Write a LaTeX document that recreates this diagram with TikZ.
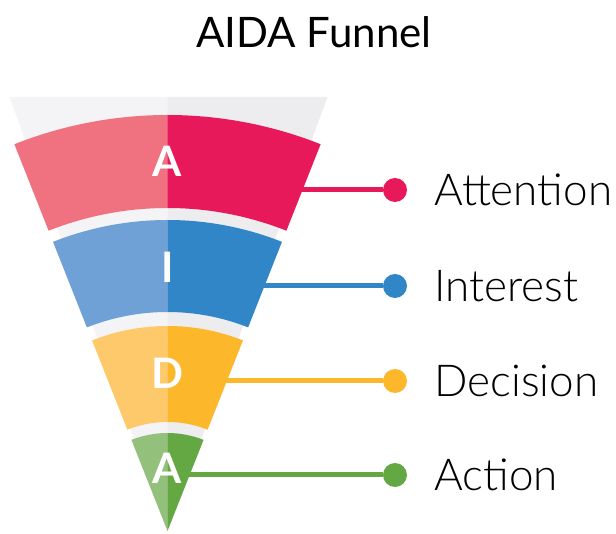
\documentclass[tikz,border=0pt]{standalone}
\usepackage{fontspec}
\setmainfont{Lato}
\newfontfamily\lightfont{Lato}[UprightFont=* Light]
\usetikzlibrary{positioning}

\definecolor{attnDark}{RGB}{232,25,90}
\definecolor{attnLite}{RGB}{240,113,128}
\definecolor{intDark}{RGB}{49,134,200}
\definecolor{intLite}{RGB}{111,160,214}
\definecolor{decDark}{RGB}{253,183,43}
\definecolor{decLite}{RGB}{254,201,107}
\definecolor{actDark}{RGB}{100,168,68}
\definecolor{actLite}{RGB}{147,192,122}
\definecolor{coneLite}{RGB}{244,244,246}
\definecolor{coneDark}{RGB}{237,237,240}

\begin{document}
\begin{tikzpicture}
		[x=1pt,y=1pt,
		letter/.style={text=white,inner sep=0pt,font=\bfseries\fontsize{42}{42}\selectfont},
		dot/.style={circle,inner sep=0pt,minimum size=24pt},
		stage/.style={anchor=west,inner sep=0pt,font=\lightfont\fontsize{44}{44}\selectfont}]
		\useasboundingbox (-167.5,-2) rectangle (448.5,531);
		%grey cone behind the bands
		\fill[coneLite] (0,0) -- (-158,434) -- (0,434) -- cycle;
		\fill[coneDark] (0,0) -- (160,434) -- (0,434) -- cycle;
		\node[font=\fontsize{42}{42}\selectfont] (title) at (146.5,499) {AIDA Funnel};
		%bands: name/inner r/outer r/light/dark/letter/letter height
		\foreach \band/\rin/\rout/\lite/\dark/\txt/\ty in {att/323/416/attnLite/attnDark/A/370,int/219/311/intLite/intDark/I/264,dec/109/205/decLite/decDark/D/158,act/0.01/98/actLite/actDark/A/63}
		{
		\fill[\lite] (90:\rin) arc[start angle=90,end angle=111.6,radius=\rin] -- (111.6:\rout) arc[start angle=111.6,end angle=90,radius=\rout] -- cycle;
		\fill[\dark] (68.4:\rin) arc[start angle=68.4,end angle=90,radius=\rin] -- (90:\rout) arc[start angle=90,end angle=68.4,radius=\rout] -- cycle;
		\node[letter] (\band) at (0,\ty) {\txt};
		}
		%connectors out to the stage names
		\foreach \band/\ly/\col/\name in {att/341/attnDark/Attention,int/245/intDark/Interest,dec/150/decDark/Decision,act/56/actDark/Action}
		{
		\coordinate (\band-e) at ({\ly*0.3959-3},\ly);
		\node[dot,fill=\col] (\band-d) at (227.5,\ly) {};
		\node[stage,right=27pt of \band-d] (\band-t) {\name};
		\draw[line width=5pt,\col] (\band-e) -- (\band-d);
		}
	\end{tikzpicture}
\end{document}
